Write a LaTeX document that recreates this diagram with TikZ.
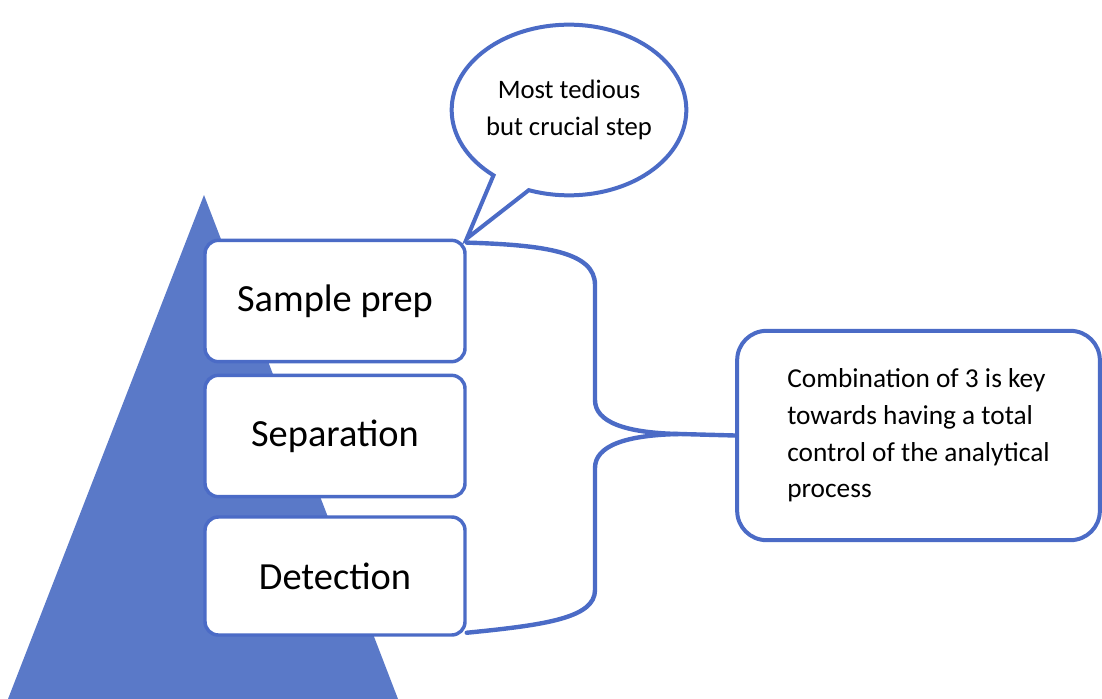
\documentclass[tikz,border=0pt]{standalone}
\usepackage{fontspec}
\setmainfont{Carlito}
\usetikzlibrary{shapes.callouts}
\definecolor{triblue}{HTML}{5A79C8}
\definecolor{lineblue}{HTML}{4B6BC6}
\begin{document}
\begin{tikzpicture}[x=0.75pt,y=-0.75pt,
  stepbox/.style={draw=lineblue, line width=2.6pt, fill=white, rounded corners=10pt,
    minimum width=195pt, minimum height=91pt, inner sep=0pt,
    font=\fontsize{28.8}{34}\selectfont},
  notebox/.style={draw=lineblue, line width=3pt, fill=white, rounded corners=22pt,
    minimum width=272pt, minimum height=157pt, inner sep=0pt, align=left,
    font=\fontsize{20.5}{27.5}\selectfont},
  bubble/.style={ellipse callout, draw=lineblue, line width=3pt, fill=white,
    minimum width=175pt, minimum height=128pt, inner sep=0pt, align=center,
    callout pointer arc=20, font=\fontsize{20}{27.8}\selectfont},
  bracket/.style={draw=lineblue, line width=3.3pt, line cap=round, line join=round}]
\useasboundingbox (0,0) rectangle (1102,699);
% pyramid
\fill[triblue] (204,195) -- (8,699) -- (398,699) -- cycle;
% step boxes
\node[stepbox] (sp) at (335,301) {Sample prep};
\node[stepbox] (sep) at (335,436) {Separation};
\node[stepbox, minimum height=88.5pt] (det) at (335,576) {Detection};
% conclusion box
\node[notebox] (comb) at (918.5,435.5) {Combination of 3 is key\\towards having a total\\control of the analytical\\process};
% callout
\node[bubble, callout absolute pointer={(sp.north east)}] (tip) at (569,110) {Most tedious\\but crucial step};
% bracket
\coordinate (j) at (680,434);
\draw[bracket] ([yshift=-3pt]sp.north east) .. controls (545,245) and (595,252) .. (595,285)
  -- (595,400) .. controls (595,422) and (625,433) .. (j) -- (comb.west);
\draw[bracket] ([yshift=3pt]det.south east) .. controls (545,625) and (595,618) .. (595,590)
  -- (595,468) .. controls (595,446) and (625,435) .. (j);
\end{tikzpicture}
\end{document}
